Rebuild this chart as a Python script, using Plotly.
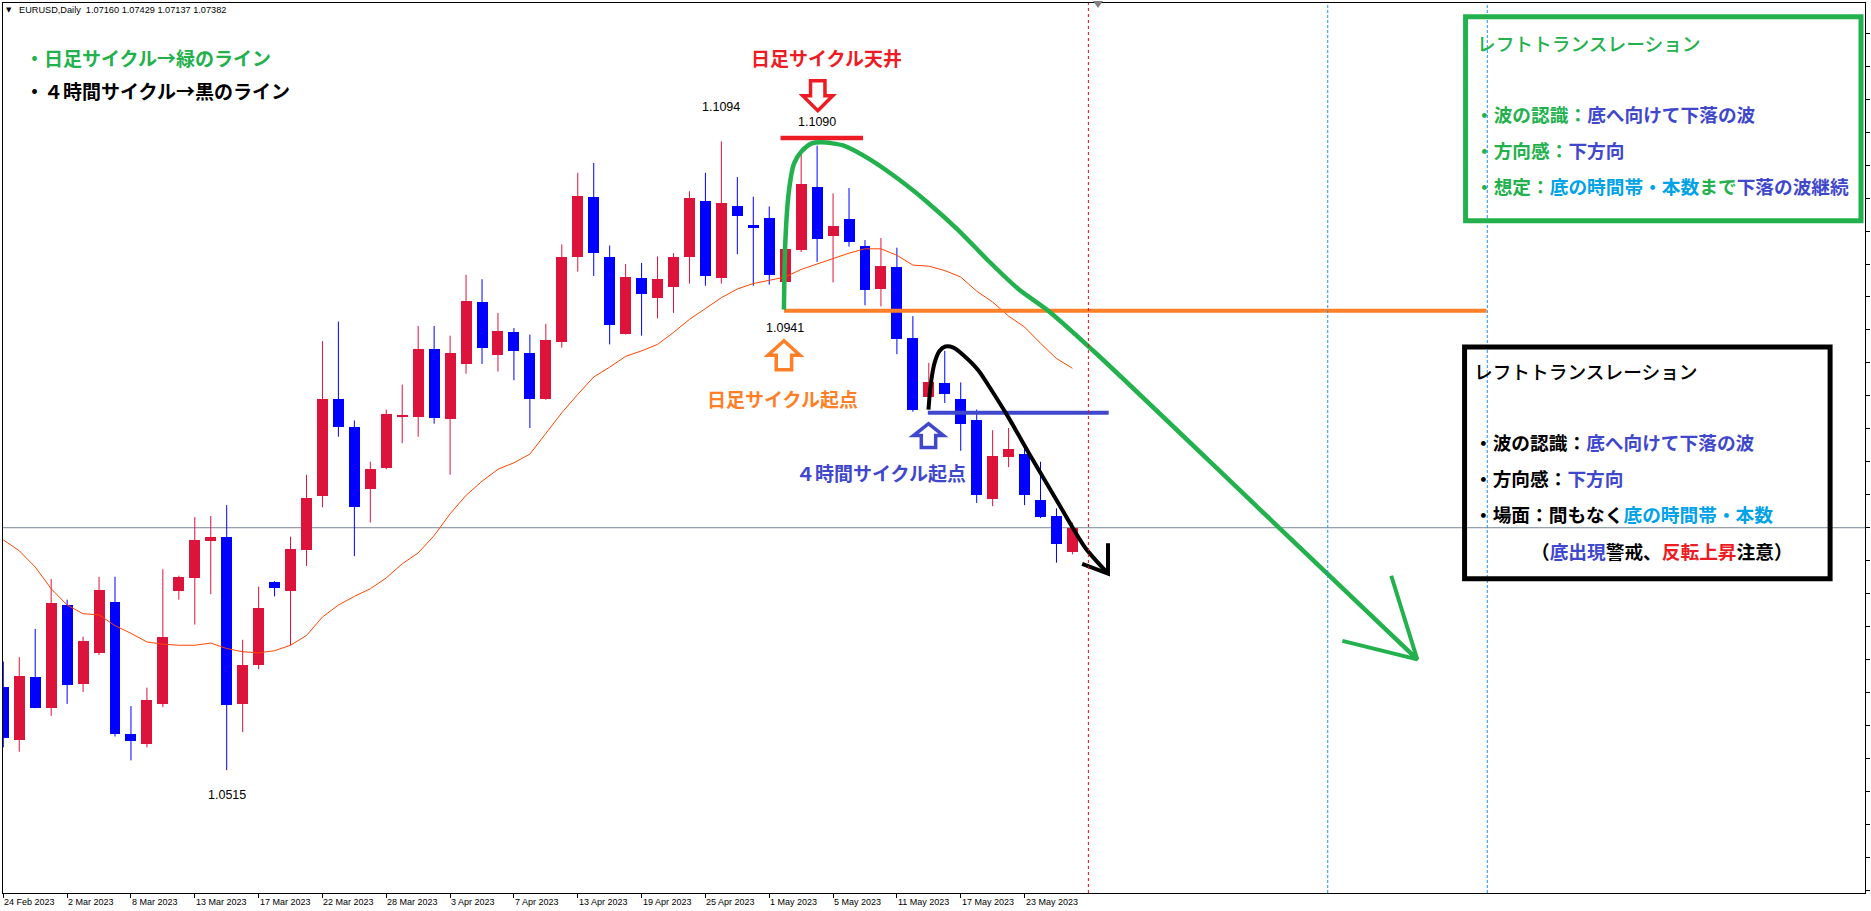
import plotly.graph_objects as go

# ---------------- data ----------------
tick_labels = ["24 Feb 2023", "2 Mar 2023", "8 Mar 2023", "13 Mar 2023", "17 Mar 2023",
               "22 Mar 2023", "28 Mar 2023", "3 Apr 2023", "7 Apr 2023", "13 Apr 2023",
               "19 Apr 2023", "25 Apr 2023", "1 May 2023", "5 May 2023", "11 May 2023",
               "17 May 2023", "23 May 2023"]
tick_bars = [0, 4, 8, 12, 16, 20, 24, 28, 32, 36, 40, 44, 48, 52, 56, 60, 64]

open_ = [1.0592, 1.0543, 1.0601, 1.0572, 1.0667, 1.0594, 1.0623, 1.0670, 1.0548, 1.0539,
         1.0576, 1.0680, 1.0692, 1.0726, 1.0730, 1.0576, 1.0612, 1.0688, 1.0680, 1.0718,
         1.0767, 1.0857, 1.0831, 1.0774, 1.0793, 1.0840, 1.0840, 1.0903, 1.0838, 1.0889,
         1.0946, 1.0897, 1.0918, 1.0899, 1.0857, 1.0909, 1.0987, 1.1043, 1.0987, 1.0917,
         1.0968, 1.0950, 1.0960, 1.0987, 1.1039, 1.0968, 1.1034, 1.1017, 1.1023, 1.0964,
         1.0994, 1.1052, 1.1007, 1.1022, 1.0998, 1.0958, 1.0978, 1.0913, 1.0859, 1.0871,
         1.0857, 1.0837, 1.0765, 1.0803, 1.0806, 1.0764, 1.0749, 1.07160]
high = [1.0615, 1.0619, 1.0645, 1.0691, 1.0672, 1.0638, 1.0693, 1.0693, 1.0574, 1.0591,
        1.0700, 1.0694, 1.0748, 1.0749, 1.0759, 1.0635, 1.0684, 1.0689, 1.0730, 1.0787,
        1.0910, 1.0928, 1.0837, 1.0799, 1.0847, 1.0870, 1.0924, 1.0924, 1.0915, 1.0971,
        1.0967, 1.0936, 1.0922, 1.0916, 1.0926, 1.0999, 1.1065, 1.1074, 1.0998, 1.0981,
        1.0982, 1.0988, 1.0991, 1.1048, 1.1065, 1.1094, 1.1061, 1.1043, 1.1034, 1.1002,
        1.1082, 1.1090, 1.1046, 1.1051, 1.1003, 1.1005, 1.0996, 1.0933, 1.0890, 1.0901,
        1.0872, 1.0847, 1.0828, 1.0830, 1.0811, 1.0799, 1.0756, 1.07429]
low = [1.0536, 1.0532, 1.0572, 1.0565, 1.0576, 1.0587, 1.0621, 1.0546, 1.0524, 1.0536,
       1.0573, 1.0672, 1.0649, 1.0677, 1.0515, 1.0550, 1.0608, 1.0675, 1.0630, 1.0703,
       1.0757, 1.0822, 1.0712, 1.0743, 1.0792, 1.0816, 1.0822, 1.0834, 1.0787, 1.0880,
       1.0889, 1.0882, 1.0874, 1.0830, 1.0856, 1.0904, 1.0974, 1.0970, 1.0907, 1.0916,
       1.0915, 1.0931, 1.0936, 1.0963, 1.0961, 1.0963, 1.0990, 1.0961, 1.0962, 1.0941,
       1.0992, 1.0983, 1.0964, 1.0997, 1.0943, 1.0942, 1.0898, 1.0845, 1.0858, 1.0853,
       1.0809, 1.0761, 1.0758, 1.0794, 1.0759, 1.0747, 1.0706, 1.07137]
close = [1.0545, 1.0602, 1.0572, 1.0669, 1.0593, 1.0634, 1.0681, 1.0548, 1.0542, 1.0580,
         1.0638, 1.0693, 1.0727, 1.0730, 1.0575, 1.0612, 1.0664, 1.0683, 1.0719, 1.0766,
         1.0857, 1.0831, 1.0757, 1.0792, 1.0843, 1.0842, 1.0903, 1.0839, 1.0899, 1.0947,
         1.0904, 1.0919, 1.0901, 1.0857, 1.0911, 1.0987, 1.1044, 1.0991, 1.0925, 1.0969,
         1.0953, 1.0967, 1.0987, 1.1042, 1.0970, 1.1037, 1.1025, 1.1014, 1.0971, 1.0995,
         1.1055, 1.1004, 1.1016, 1.1001, 1.0957, 1.0979, 1.0912, 1.0847, 1.0872, 1.0861,
         1.0834, 1.0768, 1.0804, 1.0811, 1.0768, 1.0748, 1.0723, 1.07382]
ma = [1.0727, 1.0717, 1.0702, 1.0682, 1.0667, 1.0659, 1.0658, 1.0648, 1.0641, 1.0633,
      1.0631, 1.0630, 1.0630, 1.0632, 1.0627, 1.0624, 1.0623, 1.0625, 1.0630, 1.0639,
      1.0656, 1.0667, 1.0675, 1.0682, 1.0692, 1.0705, 1.0715, 1.0731, 1.0751, 1.0768,
      1.0781, 1.0792, 1.0798, 1.0806, 1.0825, 1.0844, 1.0861, 1.0877, 1.0886, 1.0896,
      1.0901, 1.0907, 1.0918, 1.0930, 1.0940, 1.0950, 1.0958, 1.0963, 1.0966, 1.0969,
      1.0976, 1.0981, 1.0986, 1.0991, 1.0995, 1.0995, 1.0989, 1.0980, 1.0979, 1.0975,
      1.0969, 1.0956, 1.0946, 1.0933, 1.0923, 1.0908, 1.0894, 1.0885]

# hand-drawn objects (bar index, price)
green_x = [48.92, 49.01, 49.23, 49.54, 50.04, 50.67, 51.29, 52.67, 54.23, 56.11, 57.98,
           59.86, 61.73, 63.61, 65.48, 68.61, 78.61, 88.61]
green_y = [1.0939, 1.1002, 1.1048, 1.1073, 1.1085, 1.1092, 1.1093, 1.1090, 1.1078, 1.1059,
           1.1037, 1.1012, 1.0984, 1.0958, 1.0938, 1.0897, 1.0757, 1.0617]
green_head_x = [86.98, 88.61, 83.92]
green_head_y = [1.0694, 1.0617, 1.0634]
black_x = [57.98, 58.11, 58.36, 58.67, 59.04, 59.54, 60.17, 61.11, 61.92, 62.98, 64.42,
           66.11, 67.79, 69.23]
black_y = [1.0847, 1.0869, 1.0890, 1.0901, 1.0905, 1.0904, 1.0897, 1.0883, 1.0865, 1.0840,
           1.0803, 1.0761, 1.0720, 1.0696]
black_head_x = [69.23, 69.23, 67.61]
black_head_y = [1.0724, 1.0696, 1.0705]
orange_level = 1.0938
orange_span = [48.92, 92.95]
blue_level = 1.0844
blue_span = [57.94, 69.27]
red_level = 1.1097
red_span = [48.71, 53.88]
vline_current = 68
vline_blue = [83, 93]

# ---------------- layout helpers ----------------
W, H = 1871, 911
ML, MR, MT, MB = 2, 2, 2, 18
PW, PH = W - ML - MR, H - MT - MB


def PX(px):
    return (px - ML) / PW


def PY(py):
    return (H - MB - py) / PH


GREEN = "#22B14C"
BLUE = "#3F48CC"
LBLUE = "#00A2E8"
RED = "#ED1C24"
ORANGE = "#FF7F27"
UPC = "#DC143C"
DNC = "#0000FF"
JP = "Noto Sans CJK JP"

n = len(close)
idx = list(range(n))
fig = go.Figure()

# wicks
for cond, col in ((True, UPC), (False, DNC)):
    xs, ys = [], []
    for i in idx:
        if (close[i] > open_[i]) == cond:
            xs += [i, i, None]
            ys += [low[i], high[i], None]
    fig.add_trace(go.Scatter(x=xs, y=ys, mode="lines", line=dict(color=col, width=1),
                             hoverinfo="skip"))
# bodies
for cond, col in ((True, UPC), (False, DNC)):
    sel = [i for i in idx if (close[i] > open_[i]) == cond]
    fig.add_trace(go.Bar(x=sel, y=[abs(close[i] - open_[i]) for i in sel],
                         base=[min(open_[i], close[i]) for i in sel],
                         width=0.6875, marker=dict(color=col, line=dict(width=0))))
# moving average
fig.add_trace(go.Scatter(x=idx, y=ma, mode="lines", line=dict(color="#FF4500", width=1)))

# horizontal levels
fig.add_trace(go.Scatter(x=orange_span, y=[orange_level] * 2, mode="lines",
                         line=dict(color=ORANGE, width=4)))
fig.add_trace(go.Scatter(x=blue_span, y=[blue_level] * 2, mode="lines",
                         line=dict(color=BLUE, width=4)))
fig.add_trace(go.Scatter(x=red_span, y=[red_level] * 2, mode="lines",
                         line=dict(color=RED, width=4.5)))
# curves
fig.add_trace(go.Scatter(x=green_x, y=green_y, mode="lines",
                         line=dict(color=GREEN, width=4.5, shape="spline", smoothing=0.7)))
fig.add_trace(go.Scatter(x=green_head_x, y=green_head_y, mode="lines",
                         line=dict(color=GREEN, width=4)))
fig.add_trace(go.Scatter(x=black_x, y=black_y, mode="lines",
                         line=dict(color="black", width=4, shape="spline", smoothing=0.7)))
fig.add_trace(go.Scatter(x=black_head_x, y=black_head_y, mode="lines",
                         line=dict(color="black", width=4)))

shapes = []
# bid line
shapes.append(dict(type="line", xref="paper", x0=0, x1=1, yref="y", y0=close[-1], y1=close[-1],
                   line=dict(color="#778899", width=1), layer="below"))
# vertical lines
shapes.append(dict(type="line", xref="x", x0=vline_current, x1=vline_current, yref="paper",
                   y0=0, y1=1, line=dict(color="#FF0000", width=1, dash="3px,3px"), layer="above"))
for v in vline_blue:
    shapes.append(dict(type="line", xref="x", x0=v, x1=v, yref="paper", y0=0, y1=1,
                       line=dict(color="#1E90FF", width=1, dash="3px,2px"), layer="above"))
# chart-shift marker at the top
shapes.append(dict(type="path", xref="x", yref="paper", xsizemode="pixel", ysizemode="pixel",
                   xanchor=68.6, yanchor=1, path="M -5,2 L 5,2 L 0,-5 Z",
                   fillcolor="#808080", line=dict(width=0), layer="above"))


def arrow_path(w, h, up=True, head=0.5, shaft=0.48):
    hw, hh = w / 2, h / 2
    hb = hh - h * head
    sw = w * shaft / 2
    pts = [(0, hh), (hw, hb), (sw, hb), (sw, -hh), (-sw, -hh), (-sw, hb), (-hw, hb)]
    s = 1 if up else -1
    return "M " + " L ".join(f"{x:.1f},{s * y:.1f}" for x, y in pts) + " Z"


def arrow(xa, ya, w, h, up, color):
    return dict(type="path", xref="x", yref="y", xsizemode="pixel", ysizemode="pixel",
                xanchor=xa, yanchor=ya, path=arrow_path(w, h, up),
                line=dict(color=color, width=3.5), fillcolor="rgba(0,0,0,0)", layer="above")


shapes.append(arrow(51.04, 1.1136, 30, 30, False, RED))
shapes.append(arrow(48.92, 1.0897, 32, 29, True, ORANGE))
shapes.append(arrow(57.98, 1.0823, 30, 24, True, BLUE))

# text boxes
shapes.append(dict(type="rect", xref="paper", yref="paper", x0=PX(1468.5), x1=PX(1865),
                   y0=PY(15.7), y1=PY(220), line=dict(color=GREEN, width=5), layer="above"))
shapes.append(dict(type="rect", xref="paper", yref="paper", x0=PX(1467.5), x1=PX(1834),
                   y0=PY(346.5), y1=PY(578.5), line=dict(color="black", width=5), layer="above"))

ann = []
# date labels
for b, t in zip(tick_bars, tick_labels):
    ann.append(dict(x=b, xref="x", y=0, yref="paper", xanchor="left", yanchor="top",
                    yshift=-3, xshift=0, text=t, showarrow=False, borderpad=0,
                    font=dict(family="Liberation Sans", size=9, color="black")))
# header
ann.append(dict(x=PX(8.5), y=PY(9), xref="paper", yref="paper", text="▼", showarrow=False,
                xanchor="center", yanchor="middle", borderpad=0,
                font=dict(family="DejaVu Sans", size=7, color="black")))
hdr = f"EURUSD,Daily\u00a0\u00a0{open_[-1]:.5f} {high[-1]:.5f} {low[-1]:.5f} {close[-1]:.5f}"
ann.append(dict(x=PX(17), y=PY(9), xref="paper", yref="paper", text=hdr, showarrow=False,
                xanchor="left", yanchor="middle", borderpad=0,
                font=dict(family="Liberation Sans", size=9.2, color="black")))

# price labels
def price_label(i, val, shift):
    return dict(x=i, y=val, xref="x", yref="y", text=f"{val:.4f}", showarrow=False,
                yshift=shift, xanchor="center", yanchor="middle", borderpad=0,
                font=dict(family="Liberation Sans", size=12.5, color="black"))


ann.append(price_label(45, high[45], 34))
ann.append(price_label(51, high[51], 24))
ann.append(price_label(49, low[49], -21))
ann.append(price_label(14, low[14], -25))


def txt(px, py, text, color="black", anchor="left", size=19, weight="normal"):
    return dict(x=PX(px), y=PY(py), xref="paper", yref="paper", text=text, showarrow=False,
                xanchor=anchor, yanchor="middle", borderpad=0,
                font=dict(family=JP, size=size, color=color, weight=weight))


def sp(c, t):
    return f"<span style='color:{c}'>{t}</span>"


ann.append(txt(23, 57, "<b>・日足サイクル→緑のライン</b>", GREEN))
ann.append(txt(23, 90, "<b>・４時間サイクル→黒のライン</b>", "black"))
ann.append(txt(828, 57, "<b>日足サイクル天井</b>", RED, "center"))
ann.append(txt(784, 398, "<b>日足サイクル起点</b>", ORANGE, "center"))
ann.append(txt(882, 472, "<b>４時間サイクル起点</b>", BLUE, "center"))

BS = 18.7
ann.append(txt(1479, 42, "レフトトランスレーション", GREEN, size=BS, weight=500))
ann.append(txt(1477, 113, "<b>" + sp(GREEN, "・波の認識：") + sp(BLUE, "底へ向けて下落の波") + "</b>", size=BS))
ann.append(txt(1477, 149, "<b>" + sp(GREEN, "・方向感：") + sp(BLUE, "下方向") + "</b>", size=BS))
ann.append(txt(1477, 184.5, "<b>" + sp(GREEN, "・想定：") + sp(LBLUE, "底の時間帯・本数")
               + sp(GREEN, "まで") + sp(BLUE, "下落の波継続") + "</b>", size=BS))

ann.append(txt(1476, 369.5, "レフトトランスレーション", "black", size=BS, weight=500))
ann.append(txt(1476, 441, "<b>" + sp("black", "・波の認識：") + sp(BLUE, "底へ向けて下落の波") + "</b>", size=BS))
ann.append(txt(1476, 477.5, "<b>" + sp("black", "・方向感：") + sp(BLUE, "下方向") + "</b>", size=BS))
ann.append(txt(1476, 513.5, "<b>" + sp("black", "・場面：間もなく") + sp(LBLUE, "底の時間帯・本数") + "</b>", size=BS))
ann.append(txt(1665, 550, "<b>" + sp("black", "（") + sp(BLUE, "底出現") + sp("black", "警戒、")
               + sp(RED, "反転上昇") + sp("black", "注意）") + "</b>", "black", "center", size=BS))

fig.update_layout(
    width=W, height=H,
    margin=dict(l=ML, r=MR, t=MT, b=MB, pad=0),
    paper_bgcolor="white", plot_bgcolor="white",
    showlegend=False, barmode="overlay", bargap=0,
    xaxis=dict(range=[-0.019, 116.669], showgrid=False, zeroline=False,
               showline=True, linecolor="black", linewidth=1, mirror=True,
               ticks="outside", ticklen=4, tickcolor="black", tickwidth=1,
               tickvals=tick_bars, showticklabels=False),
    yaxis=dict(range=[1.04019, 1.12213], side="right", showgrid=False, zeroline=False,
               showline=True, linecolor="black", linewidth=1, mirror=True,
               ticks="outside", ticklen=4, tickcolor="black", tick0=1.07382, dtick=0.003035,
               showticklabels=False),
    shapes=shapes, annotations=ann,
    hovermode=False,
)

fig.write_html("out.html", config={"displayModeBar": False, "staticPlot": True},
               post_script="document.body.style.margin='0px';document.body.style.overflow='hidden';")
